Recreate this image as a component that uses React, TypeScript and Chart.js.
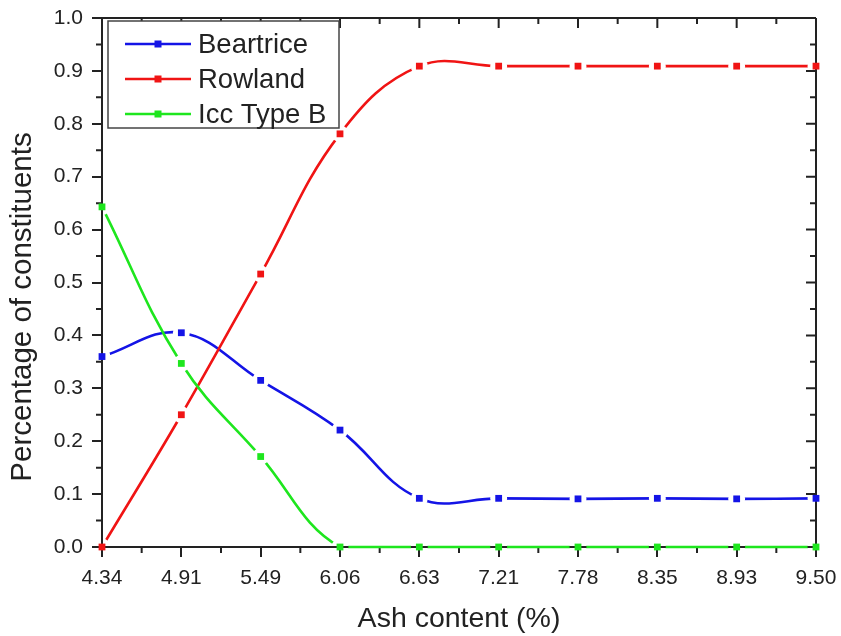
import React, { useEffect, useRef } from 'react';
import { Chart, registerables } from 'chart.js';

Chart.register(...registerables);

// ---- data ----
const ashContent = ['4.34', '4.91', '5.49', '6.06', '6.63', '7.21', '7.78', '8.35', '8.93', '9.50'];
const beartrice = [0.36, 0.405, 0.315, 0.221, 0.092, 0.092, 0.091, 0.092, 0.091, 0.092];
const rowland = [0.0, 0.25, 0.516, 0.781, 0.909, 0.909, 0.909, 0.909, 0.909, 0.909];
const iccTypeB = [0.643, 0.347, 0.171, 0.0, 0.0, 0.0, 0.0, 0.0, 0.0, 0.0];
const seriesNames = ['Beartrice', 'Rowland', 'Icc Type B'];
const seriesColors = ['#1414e6', '#f01414', '#1ee61e'];
const xTitle = 'Ash content (%)';
const yTitle = 'Percentage of constituents';
const yMin = 0;
const yMax = 1.0;
const yStep = 0.1;

const FONT = "'Liberation Sans', Arial, Helvetica, sans-serif";
const AXIS = '#222222';
const NSERIES = 3;

// leaves a small gap in each line around its markers (Origin style)
const gapPlugin = {
  id: 'gapPlugin',
  beforeDatasetDraw(chart: any, args: any) {
    const idx = args.index;
    if (idx >= NSERIES) return;
    const ctx = chart.ctx;
    const src = chart.getDatasetMeta(idx + NSERIES);
    ctx.save();
    const path = new Path2D();
    path.rect(0, 0, chart.width, chart.height);
    const g = 8.5;
    src.data.forEach((p: any) => {
      path.moveTo(p.x + g, p.y);
      path.arc(p.x, p.y, g, 0, Math.PI * 2);
    });
    ctx.clip(path, 'evenodd');
  },
  afterDatasetDraw(chart: any, args: any) {
    if (args.index >= NSERIES) return;
    chart.ctx.restore();
  },
};

const framePlugin = {
  id: 'framePlugin',
  beforeDatasetsDraw(chart: any) {
    const { ctx, chartArea } = chart;
    const { left, right, top, bottom } = chartArea;
    const xs = chart.scales.x;
    const ys = chart.scales.y;
    ctx.save();
    ctx.strokeStyle = AXIS;
    ctx.lineWidth = 2;
    ctx.beginPath();
    ctx.moveTo(left, top);
    ctx.lineTo(right, top);
    ctx.moveTo(right, top);
    ctx.lineTo(right, bottom);
    ctx.stroke();
    const MAJ = 10;
    const MIN = 6;
    ctx.beginPath();
    const n = ashContent.length;
    for (let i = 0; i < n; i++) {
      const x = xs.getPixelForValue(i);
      ctx.moveTo(x, top);
      ctx.lineTo(x, top + MAJ);
      if (i < n - 1) {
        const xm = (x + xs.getPixelForValue(i + 1)) / 2;
        ctx.moveTo(xm, top);
        ctx.lineTo(xm, top + MIN);
        ctx.moveTo(xm, bottom);
        ctx.lineTo(xm, bottom + MIN);
      }
    }
    const steps = Math.round((yMax - yMin) / yStep);
    for (let k = 0; k <= steps; k++) {
      const v = yMin + k * yStep;
      const y = ys.getPixelForValue(v);
      ctx.moveTo(right, y);
      ctx.lineTo(right - MAJ, y);
      if (k < steps) {
        const ym = ys.getPixelForValue(v + yStep / 2);
        ctx.moveTo(left, ym);
        ctx.lineTo(left - MIN, ym);
        ctx.moveTo(right, ym);
        ctx.lineTo(right - MIN, ym);
      }
    }
    ctx.stroke();
    ctx.restore();
  },
};

const legendPlugin = {
  id: 'boxLegend',
  afterDraw(chart: any) {
    const { ctx, chartArea } = chart;
    ctx.save();
    ctx.font = `29.5px ${FONT}`;
    ctx.fillStyle = '#222222';
    ctx.textAlign = 'center';
    ctx.textBaseline = 'middle';
    ctx.translate(23, 307);
    ctx.rotate(-Math.PI / 2);
    ctx.fillText(yTitle, 0, 0);
    ctx.restore();

    const bx = chartArea.left + 6;
    const by = chartArea.top + 3;
    const bw = 231;
    const bh = 107;
    ctx.save();
    ctx.fillStyle = '#ffffff';
    ctx.fillRect(bx, by, bw, bh);
    ctx.strokeStyle = '#444444';
    ctx.lineWidth = 1.5;
    ctx.strokeRect(bx, by, bw, bh);
    ctx.font = `27.5px ${FONT}`;
    ctx.textBaseline = 'middle';
    ctx.textAlign = 'left';
    seriesNames.forEach((name, i) => {
      const y = by + 23 + i * 35;
      ctx.strokeStyle = seriesColors[i];
      ctx.lineWidth = 2.6;
      ctx.beginPath();
      ctx.moveTo(bx + 17, y);
      ctx.lineTo(bx + 83, y);
      ctx.stroke();
      ctx.fillStyle = seriesColors[i];
      ctx.fillRect(bx + 50 - 3.5, y - 3.5, 7, 7);
      ctx.fillStyle = '#222222';
      ctx.fillText(name, bx + 90, y + 1);
    });
    ctx.restore();
  },
};

const zeroPad = (s: any) => {
  s.paddingLeft = 0;
  s.paddingRight = 0;
  s.paddingTop = 0;
  s.paddingBottom = 0;
};

export default function App() {
  const ref = useRef<HTMLCanvasElement | null>(null);
  useEffect(() => {
    const canvas = ref.current;
    if (!canvas) return;
    Chart.defaults.font.family = FONT;
    const series = [beartrice, rowland, iccTypeB];
    const lineSets = series.map((data, i) => ({
      label: seriesNames[i],
      data,
      borderColor: seriesColors[i],
      backgroundColor: seriesColors[i],
      borderWidth: 2.6,
      pointRadius: 0,
      tension: 0.4,
      fill: false,
      order: 10 - i,
      clip: 6,
    }));
    const markerSets = series.map((data, i) => ({
      label: seriesNames[i] + ' markers',
      data,
      showLine: false,
      pointStyle: 'rect',
      pointRadius: 4.8,
      pointBorderWidth: 0,
      pointBackgroundColor: seriesColors[i],
      borderColor: seriesColors[i],
      order: 1,
      clip: 6,
    }));
    const chart = new Chart(canvas, {
      type: 'line',
      data: { labels: ashContent, datasets: [...lineSets, ...markerSets] as any },
      options: {
        animation: false,
        responsive: false,
        maintainAspectRatio: false,
        layout: { padding: { top: 18, right: 25, left: 0, bottom: 0 } },
        plugins: { legend: { display: false }, tooltip: { enabled: false } },
        scales: {
          x: {
            type: 'category',
            offset: false,
            grid: { drawOnChartArea: false, tickLength: 10, color: AXIS, lineWidth: 2 },
            border: { color: AXIS, width: 2 },
            ticks: { font: { size: 21 }, color: '#222222', padding: 9, maxRotation: 0, autoSkip: false },
            title: { display: true, text: xTitle, font: { size: 28.5 }, color: '#222222', padding: { top: 0, bottom: 0 } },
            afterFit: (s: any) => { s.height = 89; zeroPad(s); },
          },
          y: {
            min: yMin,
            max: yMax,
            grid: { drawOnChartArea: false, tickLength: 10, color: AXIS, lineWidth: 2 },
            border: { color: AXIS, width: 2 },
            ticks: {
              stepSize: yStep,
              font: { size: 21 },
              color: '#222222',
              padding: 9,
              callback: (v: any) => Number(v).toFixed(1),
            },
            title: { display: false },
            afterFit: (s: any) => { s.width = 102; zeroPad(s); },
          },
        },
      },
      plugins: [gapPlugin, framePlugin, legendPlugin],
    });
    return () => chart.destroy();
  }, []);
  return (
    <div style={{ position: 'absolute', left: 0, top: 0, width: 841, height: 636, background: '#fff' }}>
      <canvas ref={ref} width={841} height={636} style={{ display: 'block' }} />
    </div>
  );
}
